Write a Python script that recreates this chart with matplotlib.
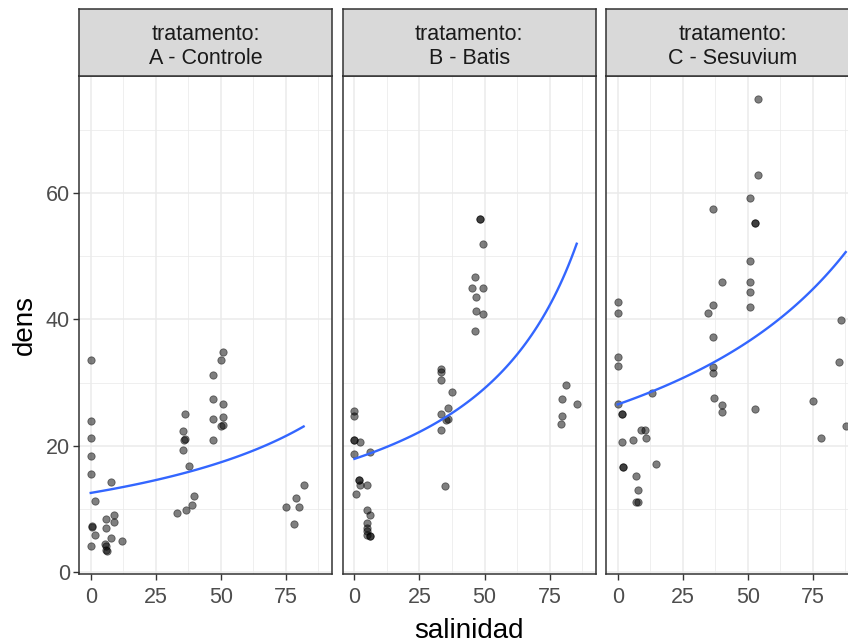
import numpy as np
import matplotlib
matplotlib.use("Agg")
import matplotlib.pyplot as plt
from matplotlib.ticker import MultipleLocator

plt.rcParams["font.family"] = ["Liberation Sans", "DejaVu Sans"]

# facet labels
panels = ["tratamento:\nA - Controle", "tratamento:\nB - Batis", "tratamento:\nC - Sesuvium"]

# A - Controle
ctrl_sal = [0, 0, 0, 0, 0, 0, 1.8, 0.6, 0.4, 1.8, 7.9, 6.0, 9.1, 9.1, 6.0, 7.8, 5.4, 6.0, 6.0, 6.2, 12.1,
            36.2, 35.5, 36.0, 36.2, 35.5, 37.8, 39.6, 39.1, 36.7, 33.1,
            51.0, 49.9, 46.9, 46.9, 51.0, 46.9, 51.0, 51.0, 49.9, 46.9,
            75.1, 79.9, 78.8, 81.8, 78.1]
ctrl_dens = [33.6, 24.0, 21.3, 18.4, 15.5, 4.2, 11.3, 7.3, 7.2, 5.9, 14.3, 8.4, 9.1, 7.9, 7.1, 5.5, 4.5, 4.2, 3.6, 3.4, 5.0,
             25.1, 22.3, 20.9, 21.1, 19.4, 16.8, 12.1, 10.6, 9.9, 9.4,
             34.8, 33.6, 31.2, 27.5, 26.7, 24.3, 24.5, 23.3, 23.1, 20.9,
             10.3, 10.3, 11.8, 13.8, 7.7]

# B - Batis
batis_sal = [48.2, 48.2, 49.4, 46.3, 45.1, 49.4, 46.8, 46.8, 49.4, 46.3,
             33.1, 33.1, 33.1, 37.4, 36.0, 33.1, 36.0, 35.0, 33.1, 34.9,
             0, 0, 0, 0, 2.1, 0, 6.0, 1.7, 1.7, 2.1, 5.0, 0.6, 5.0, 6.0, 5.0, 5.0, 5.0, 6.0, 6.0, 5.0,
             81.2, 79.9, 85.4, 79.9, 79.2]
batis_dens = [55.9, 55.9, 52.0, 46.7, 45.0, 45.0, 43.5, 41.3, 40.8, 38.1,
              32.2, 31.7, 30.4, 28.5, 26.0, 25.0, 24.3, 24.1, 22.5, 13.7,
              25.6, 24.8, 20.9, 20.9, 20.7, 18.8, 19.1, 14.6, 14.6, 13.9, 13.9, 12.4, 9.9, 9.0, 7.8, 7.0, 6.5, 5.8, 5.8, 5.9,
              29.7, 27.5, 26.7, 24.8, 23.5]

# C - Sesuvium
sesu_sal = [54.0, 54.0, 50.9, 36.5, 52.6, 52.6, 50.9, 40.1, 50.9, 50.9, 36.5, 50.9,
            0, 0, 34.6, 85.8, 36.5, 0, 0, 85.1, 36.5, 36.5, 13.2, 0, 37.1, 40.1, 40.1, 52.7, 75.0,
            1.7, 1.7, 87.6,
            9.1, 10.3, 10.9, 1.7, 5.9, 2.2, 2.2, 14.9, 7.1, 7.7, 7.2, 7.8, 78.0]
sesu_dens = [74.9, 62.9, 59.2, 57.5, 55.3, 55.3, 49.2, 46.0, 46.0, 44.3, 42.3, 42.0,
             42.8, 41.1, 41.1, 39.9, 37.2, 34.0, 32.7, 33.3, 32.5, 31.5, 28.4, 26.6, 27.6, 26.4, 25.4, 25.9, 27.1,
             25.0, 25.0, 23.1,
             22.5, 22.5, 21.2, 20.7, 20.9, 16.7, 16.7, 17.2, 15.2, 13.0, 11.1, 11.2, 21.2]

data = [(ctrl_sal, ctrl_dens), (batis_sal, batis_dens), (sesu_sal, sesu_dens)]


def gamma_fit(x, y):
    # Gamma glm with its default inverse link, fitted by IRLS
    X = np.column_stack([np.ones_like(x), x])
    beta = np.array([1.0 / y.mean(), 0.0])
    for _ in range(100):
        eta = X @ beta
        mu = 1.0 / eta
        z = eta - (y - mu) / mu ** 2
        w = mu ** 2
        beta = np.linalg.solve(X.T @ (w[:, None] * X), X.T @ (w * z))
    return beta


W, H = 848, 644
fig = plt.figure(figsize=(W / 100, H / 100), dpi=100)

lefts = [79, 342.7, 606]
pw = 253
pbottom = 644 - 574.3
ptop = 644 - 76
stop = 644 - 9.3

for i, (lab, (sal, dens)) in enumerate(zip(panels, data)):
    x = np.array(sal, dtype=float)
    y = np.array(dens, dtype=float)
    ax = fig.add_axes([lefts[i] / W, pbottom / H, pw / W, (ptop - pbottom) / H])
    ax.set_xlim(-4.5, 92.7)
    ax.set_ylim(-0.3, 78.5)
    ax.xaxis.set_major_locator(MultipleLocator(25))
    ax.xaxis.set_minor_locator(MultipleLocator(12.5))
    ax.yaxis.set_major_locator(MultipleLocator(20))
    ax.yaxis.set_minor_locator(MultipleLocator(10))
    ax.grid(which="major", color="#EBEBEB", lw=1.1)
    ax.grid(which="minor", color="#EBEBEB", lw=0.55)
    ax.set_axisbelow(True)
    ax.tick_params(which="minor", length=0)
    ax.tick_params(which="major", length=4, width=1.0, color="#333333",
                   labelsize=15.5, labelcolor="#4D4D4D")
    ax.tick_params(axis="x", pad=5.5)
    ax.tick_params(axis="y", pad=2.5)
    for s in ax.spines.values():
        s.set_color("#333333")
        s.set_linewidth(1.1)
    if i > 0:
        ax.tick_params(axis="y", labelleft=False, left=False)

    ax.scatter(x, y, s=28, c="black", alpha=0.5, edgecolors="black", linewidths=0.6, zorder=3)

    b0, b1 = gamma_fit(x, y)
    xs = np.linspace(x.min(), x.max(), 80)
    ax.plot(xs, 1.0 / (b0 + b1 * xs), color="#3366FF", lw=1.7, zorder=4)

    if i == 0:
        ax.set_ylabel("dens", fontsize=20, labelpad=6)
    if i == 1:
        ax.set_xlabel("salinidad", fontsize=20, labelpad=6.5)

    sax = fig.add_axes([lefts[i] / W, ptop / H, pw / W, (stop - ptop) / H])
    sax.set_facecolor("#D9D9D9")
    sax.set_xticks([])
    sax.set_yticks([])
    for s in sax.spines.values():
        s.set_color("#333333")
        s.set_linewidth(1.1)
    sax.text(0.5, 0.44, lab, ha="center", va="center", fontsize=15.5, color="#1A1A1A",
             linespacing=1.2, transform=sax.transAxes)

fig.savefig("out.png", dpi=100)
